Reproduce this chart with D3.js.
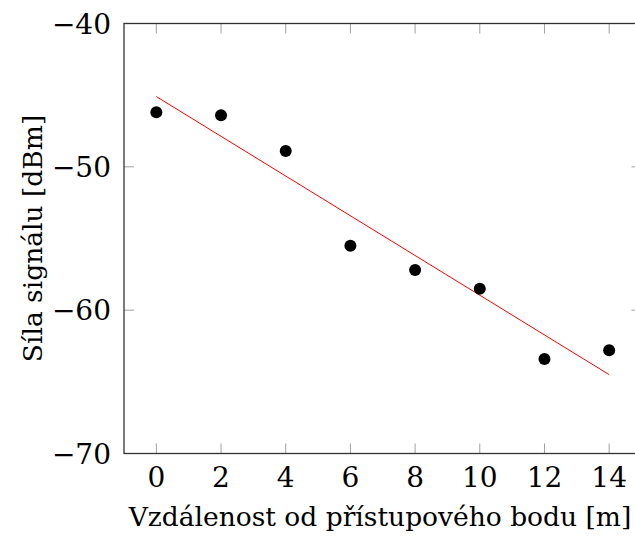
<!DOCTYPE html>
<html>
<head>
<meta charset="utf-8">
<script src="https://cdn.jsdelivr.net/npm/d3@7"></script>
<style>
  html, body { margin: 0; padding: 0; background: #fff; overflow: hidden; }
  svg { display: block; }
  svg text { font-family: 'DejaVu Serif', 'Liberation Serif', serif; }
</style>
</head>
<body>
<svg id="chart" width="635" height="536"></svg>
<script>
// measured points
var distances = [0, 2, 4, 6, 8, 10, 12, 14];
var signal = [-46.2, -46.4, -48.9, -55.5, -57.2, -58.5, -63.4, -62.8];
// fitted line, end points
var fitX = [0, 14];
var fitY = [-45.1, -64.5];
var xTicks = [0, 2, 4, 6, 8, 10, 12, 14];
var yTicks = [-40, -50, -60, -70];

var plotLeft = 124, plotTop = 23.5, plotRight = 641.5, plotBottom = 453.5;
var svg = d3.select("#chart");

var x = d3.scaleLinear().domain([-1, 15]).range([plotLeft, plotRight]);
var y = d3.scaleLinear().domain([-70, -40]).range([plotBottom, plotTop]);

function fmt(v) { return v < 0 ? "\u2212" + Math.abs(v) : String(v); }

// tick marks, drawn inside the box on all four sides
var tickLen = 10;
var ticks = svg.append("g").attr("stroke", "#a0a0a0").attr("stroke-width", 1);
xTicks.forEach(function (t) {
  ticks.append("line").attr("x1", x(t)).attr("x2", x(t)).attr("y1", plotBottom).attr("y2", plotBottom - tickLen);
  ticks.append("line").attr("x1", x(t)).attr("x2", x(t)).attr("y1", plotTop).attr("y2", plotTop + tickLen);
});
yTicks.forEach(function (t) {
  ticks.append("line").attr("y1", y(t)).attr("y2", y(t)).attr("x1", plotLeft).attr("x2", plotLeft + tickLen);
  ticks.append("line").attr("y1", y(t)).attr("y2", y(t)).attr("x1", plotRight).attr("x2", plotRight - tickLen);
});

// box
svg.append("rect")
  .attr("x", plotLeft).attr("y", plotTop)
  .attr("width", plotRight - plotLeft).attr("height", plotBottom - plotTop)
  .attr("fill", "none").attr("stroke", "#333").attr("stroke-width", 1.3);

// tick labels
svg.append("g").selectAll("text").data(xTicks).enter().append("text")
  .attr("x", function (d) { return x(d); })
  .attr("y", plotBottom + 33)
  .attr("text-anchor", "middle")
  .attr("font-size", 28)
  .text(function (d) { return d; });

svg.append("g").selectAll("text").data(yTicks).enter().append("text")
  .attr("x", plotLeft - 13)
  .attr("y", function (d) { return y(d) + 10; })
  .attr("text-anchor", "end")
  .attr("font-size", 28)
  .text(fmt);

// axis titles
svg.append("text")
  .attr("x", 380)
  .attr("y", 526)
  .attr("text-anchor", "middle")
  .attr("font-size", 26.5)
  .text("Vzdálenost od přístupového bodu [m]");

svg.append("text")
  .attr("transform", "translate(42," + ((plotTop + plotBottom) / 2) + ") rotate(-90)")
  .attr("text-anchor", "middle")
  .attr("font-size", 26.5)
  .text("Síla signálu [dBm]");

// fit line
svg.append("line")
  .attr("x1", x(fitX[0])).attr("y1", y(fitY[0]))
  .attr("x2", x(fitX[1])).attr("y2", y(fitY[1]))
  .attr("stroke", "#ff0000").attr("stroke-width", 1);

// points
svg.append("g").selectAll("circle").data(distances).enter().append("circle")
  .attr("cx", function (d) { return x(d); })
  .attr("cy", function (d, i) { return y(signal[i]); })
  .attr("r", 6)
  .attr("fill", "#000");
</script>
</body>
</html>
